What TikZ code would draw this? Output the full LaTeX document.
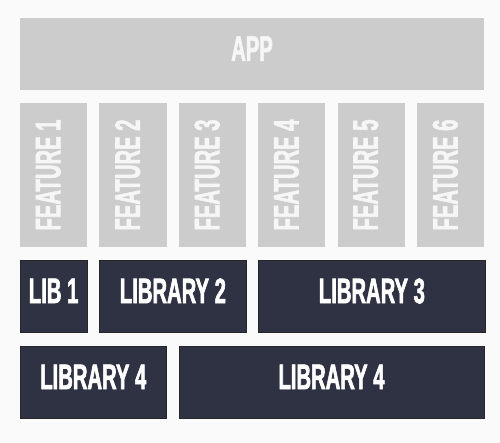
\documentclass[tikz,border=0pt]{standalone}
\usepackage{fontspec}
\newfontfamily\din{Liberation Sans}[FakeStretch=0.57,FakeBold=1.6]
\usepackage{tikz}
\usetikzlibrary{positioning}

\definecolor{pagebg}{HTML}{FAFAFA}
\definecolor{boxgrey}{HTML}{CCCCCC}
\definecolor{featuretext}{HTML}{F6F6F6}
\definecolor{libdark}{HTML}{2F3243}

\begin{document}
\begin{tikzpicture}[x=1pt,y=-1pt,node distance=12.4pt,
  every node/.style={font=\din\bfseries\fontsize{35.5}{36}\selectfont,inner sep=0pt,outer sep=0pt,text depth=11pt},
  greybox/.style={fill=boxgrey,text=featuretext},
  libbox/.style={fill=libdark,draw=black!85,line width=0.6pt,text=white,minimum height=71.3pt}]
\useasboundingbox[fill=pagebg] (0,0) rectangle (500,443);
% top layer
\node[greybox,minimum width=464pt,minimum height=71.7pt] (app) at (252,54.1) {APP};
% feature columns
\foreach \i in {1,...,6}
  \node[greybox,rotate=90,minimum width=143.4pt,minimum height=67.2pt] (f\i) at ({53.6+(\i-1)*79.4},175) {FEATURE \i};
% libraries
\node[libbox,minimum width=67.2pt] (lib1) at (53.6,296.3) {LIB 1};
\node[libbox,minimum width=146.6pt,right=of lib1] (lib2) {LIBRARY 2};
\node[libbox,minimum width=226.6pt,right=of lib2] (lib3) {LIBRARY 3};
\node[libbox,minimum width=146.6pt,below right=14.8pt and 0pt of lib1.south west] (lib4a) {LIBRARY 4};
\node[libbox,minimum width=305pt,right=of lib4a] (lib4b) {LIBRARY 4};
\end{tikzpicture}
\end{document}
